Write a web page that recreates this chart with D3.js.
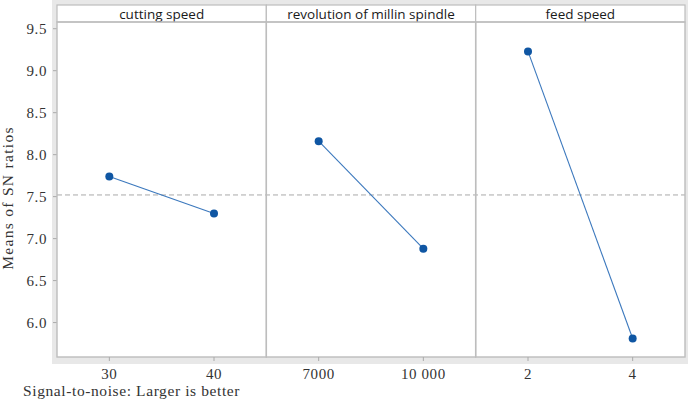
<!DOCTYPE html>
<html>
<head>
  <title>Main effects plot for SN ratios</title>
  <script src="https://d3js.org/d3.v7.min.js"></script>
  <style>
    body { margin: 0; background: white; }
    .serif { font-family: "Liberation Serif", "DejaVu Serif", serif; fill: #333; }
    .head { font-family: "Open Sans", "Noto Sans", sans-serif; font-size: 13.5px; fill: #1a1a1a; }
  </style>
</head>
<body>
<svg id="chart" width="691" height="400"></svg>
<script>
  // data
  var factors = ["cutting speed", "revolution of millin spindle", "feed speed"];
  var levels = [["30", "40"], ["7000", "10 000"], ["2", "4"]];
  var snMeans = [[7.74, 7.30], [8.16, 6.88], [9.23, 5.81]];
  var yTicks = [6.0, 6.5, 7.0, 7.5, 8.0, 8.5, 9.0, 9.5];
  var overallMean = 7.52;

  var svg = d3.select("#chart");
  // note: "top" is a reserved window global, so use other names
  var pLeft = 57, pRight = 685, pTop = 5, headH = 17, pBottom = 357;

  var x = d3.scaleBand().domain(factors).range([pLeft, pRight]);
  var y = d3.scaleLinear().domain([5.59, 9.58]).range([pBottom, pTop + headH]);

  // grey outer frame
  svg.append("rect")
    .attr("x", 52).attr("y", 0).attr("width", 636).attr("height", 364)
    .attr("fill", "#e8e8e8");
  svg.append("rect")
    .attr("x", pLeft).attr("y", pTop).attr("width", pRight - pLeft).attr("height", pBottom - pTop)
    .attr("fill", "white");

  // y ticks and labels
  svg.append("g").selectAll("line").data(yTicks).join("line")
    .attr("x1", 53).attr("x2", pLeft)
    .attr("y1", d => y(d)).attr("y2", d => y(d))
    .attr("stroke", "#aaa");
  svg.append("g").selectAll("text").data(yTicks).join("text")
    .attr("class", "serif")
    .attr("x", 47).attr("y", d => y(d))
    .attr("dy", "0.35em")
    .attr("text-anchor", "end")
    .style("font-size", "15px").style("letter-spacing", "0.6px")
    .text(d => d.toFixed(1));

  // overall mean reference line
  svg.append("line")
    .attr("x1", pLeft).attr("x2", pRight)
    .attr("y1", y(overallMean)).attr("y2", y(overallMean))
    .attr("stroke", "#aaa").attr("stroke-dasharray", "5,3");

  var panels = svg.selectAll("g.panel").data(factors).join("g").attr("class", "panel");

  panels.each(function(f, i) {
    var g = d3.select(this);
    var x0 = x(f), w = x.bandwidth();
    var px = d3.scalePoint().domain(levels[i]).range([x0, x0 + w]).padding(0.5);
    var pts = levels[i].map((l, j) => ({ lev: l, val: snMeans[i][j] }));

    // header strip
    g.append("rect")
      .attr("x", x0).attr("y", pTop).attr("width", w).attr("height", headH)
      .attr("fill", "white").attr("stroke", "#bdbdbd").attr("stroke-width", 1.2);
    g.append("text").attr("class", "head")
      .attr("x", x0 + w / 2).attr("y", pTop + headH / 2 + 1)
      .attr("dy", "0.35em").attr("text-anchor", "middle")
      .text(f);

    // panel box
    g.append("rect")
      .attr("x", x0).attr("y", pTop + headH).attr("width", w).attr("height", pBottom - pTop - headH)
      .attr("fill", "none").attr("stroke", "#bdbdbd").attr("stroke-width", 1.4);

    // x ticks and labels
    g.selectAll("line.tick").data(levels[i]).join("line").attr("class", "tick")
      .attr("x1", d => px(d)).attr("x2", d => px(d))
      .attr("y1", pBottom).attr("y2", pBottom + 4)
      .attr("stroke", "#aaa");
    g.selectAll("text.lev").data(levels[i]).join("text").attr("class", "serif lev")
      .attr("x", d => px(d)).attr("y", 374)
      .attr("dy", "0.35em").attr("text-anchor", "middle")
      .style("font-size", "15px").style("letter-spacing", "0.6px")
      .text(d => d);

    g.append("path").datum(pts)
      .attr("d", d3.line().x(d => px(d.lev)).y(d => y(d.val)))
      .attr("fill", "none").attr("stroke", "#3b78bd").attr("stroke-width", 1.1);
    g.selectAll("circle").data(pts).join("circle")
      .attr("cx", d => px(d.lev)).attr("cy", d => y(d.val))
      .attr("r", 4).attr("fill", "#0f56a3");
  });

  // axis titles
  svg.append("text").attr("class", "serif")
    .attr("transform", "translate(13,198) rotate(-90)")
    .attr("text-anchor", "middle")
    .style("font-size", "15.5px").style("letter-spacing", "1.3px")
    .text("Means of SN ratios");
  svg.append("text").attr("class", "serif")
    .attr("x", 23).attr("y", 396)
    .style("font-size", "15.5px").style("letter-spacing", "0.6px")
    .text("Signal-to-noise: Larger is better");
</script>
</body>
</html>
